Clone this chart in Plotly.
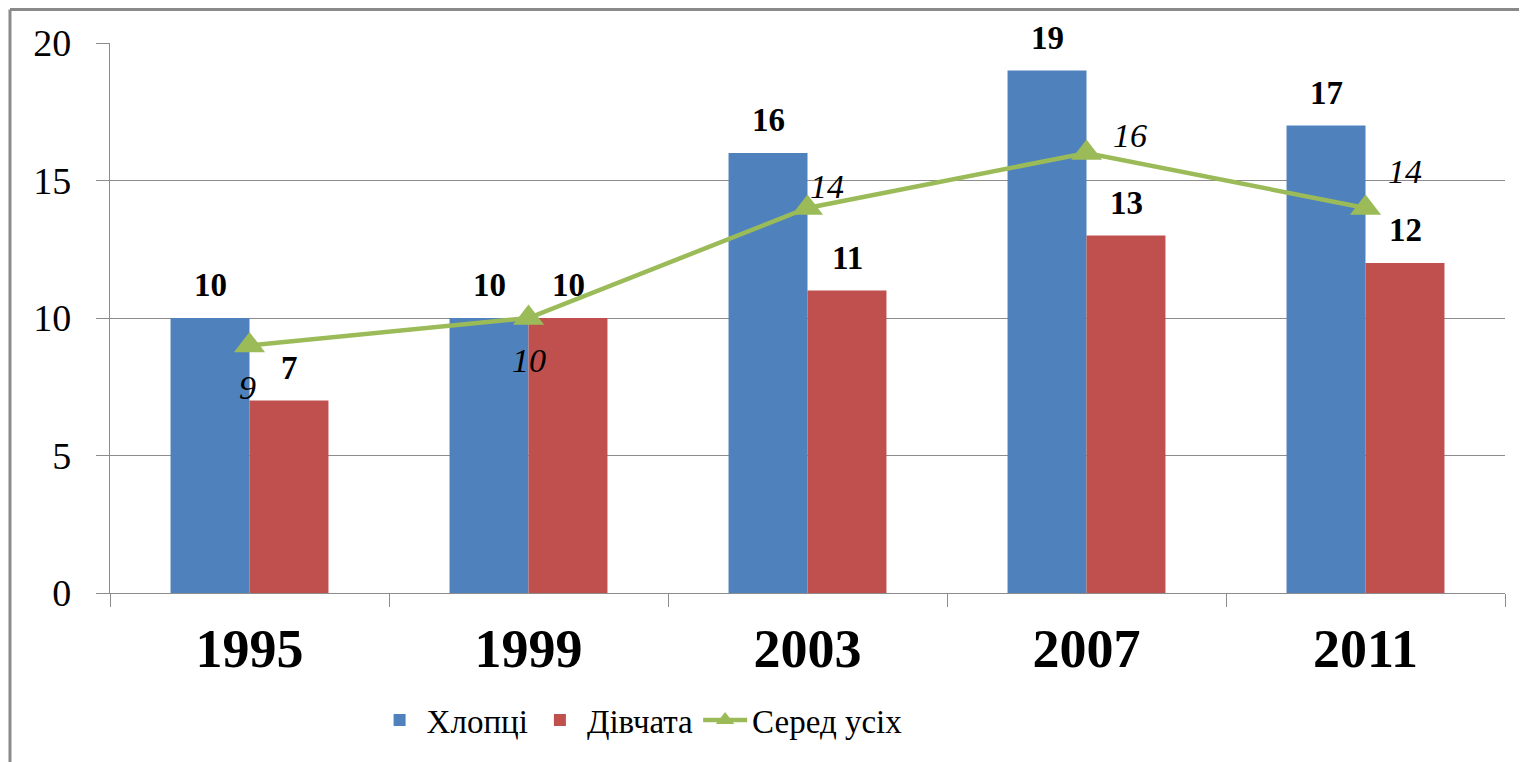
import plotly.graph_objects as go

years = ["1995", "1999", "2003", "2007", "2011"]
boys = [10, 10, 16, 19, 17]
girls = [7, 10, 11, 13, 12]
overall = [9, 10, 14, 16, 14]
series_names = ["Хлопці", "Дівчата", "Серед усіх"]
y_ticks = [0, 5, 10, 15, 20]

BLUE = "#4F81BD"
RED = "#C0504D"
GREEN = "#9BBB59"
GRID = "#8C8C8C"
FONT = "Liberation Serif"

fig = go.Figure()
fig.add_trace(go.Bar(x=years, y=boys, name=series_names[0], marker_color=BLUE,
                     marker_line_width=0))
fig.add_trace(go.Bar(x=years, y=girls, name=series_names[1], marker_color=RED,
                     marker_line_width=0))
fig.add_trace(go.Scatter(x=years, y=overall, name=series_names[2], mode="lines+markers",
                         line=dict(color=GREEN, width=4.5),
                         marker=dict(symbol="triangle-up", size=27, color=GREEN)))

# bar value labels (x given as category index)
for i, (b, g) in enumerate(zip(boys, girls)):
    fig.add_annotation(x=i, y=b, xshift=-39.5, yshift=13, yanchor="bottom", showarrow=False,
                       text=f"<b>{b}</b>", font=dict(family=FONT, size=33, color="black"))
    fig.add_annotation(x=i, y=g, xshift=39.5, yshift=13, yanchor="bottom", showarrow=False,
                       text=f"<b>{g}</b>", font=dict(family=FONT, size=33, color="black"))

# line value labels (custom offsets as in the original)
line_offsets = [(-2, -42), (0, -42), (19, 22), (43, 18), (39, 37)]
for i, (v, (dx, dy)) in enumerate(zip(overall, line_offsets)):
    fig.add_annotation(x=i, y=v, xshift=dx, yshift=dy, showarrow=False,
                       text=f"<i>{v}</i>", font=dict(family=FONT, size=34, color="black"))

# outer frame (left and top edges visible)
fig.add_shape(type="line", xref="paper", yref="paper", x0=-0.0717, x1=-0.0717, y0=-0.35, y1=1.061,
              line=dict(color="#8A8A8A", width=3))
fig.add_shape(type="line", xref="paper", yref="paper", x0=-0.0717, x1=1.03, y0=1.061, y1=1.061,
              line=dict(color="#8A8A8A", width=3))

fig.update_layout(
    width=1527, height=762,
    margin=dict(l=102, r=30, t=35, b=177),
    paper_bgcolor="white", plot_bgcolor="white",
    barmode="group", bargap=0.434, bargroupgap=0,
    showlegend=True,
    legend=dict(orientation="h", x=0.38, xanchor="center", y=-0.231, yanchor="middle",
                font=dict(family=FONT, size=33, color="black"), itemwidth=44,
                traceorder="normal"),
    font=dict(family=FONT, color="black"),
)
fig.update_xaxes(type="category", range=[-0.5, len(years) - 0.5], autorange=False,
                 showline=True, linecolor=GRID, linewidth=1.3,
                 ticks="outside", tickson="boundaries", ticklen=13, tickcolor=GRID,
                 tickfont=dict(family=FONT, size=54, color="black"), tickangle=0,
                 tickprefix="<b>", ticksuffix="</b>", ticklabelstandoff=8,
                 showgrid=False, zeroline=False)
fig.update_yaxes(range=[0, 20], autorange=False, tickvals=y_ticks, showline=True,
                 linecolor=GRID, linewidth=1.3,
                 ticks="outside", ticklen=13, tickcolor=GRID,
                 tickfont=dict(family=FONT, size=38, color="black"), ticklabelstandoff=17,
                 showgrid=True, gridcolor=GRID, gridwidth=1.3, zeroline=False)

fig.write_html("out.html")
